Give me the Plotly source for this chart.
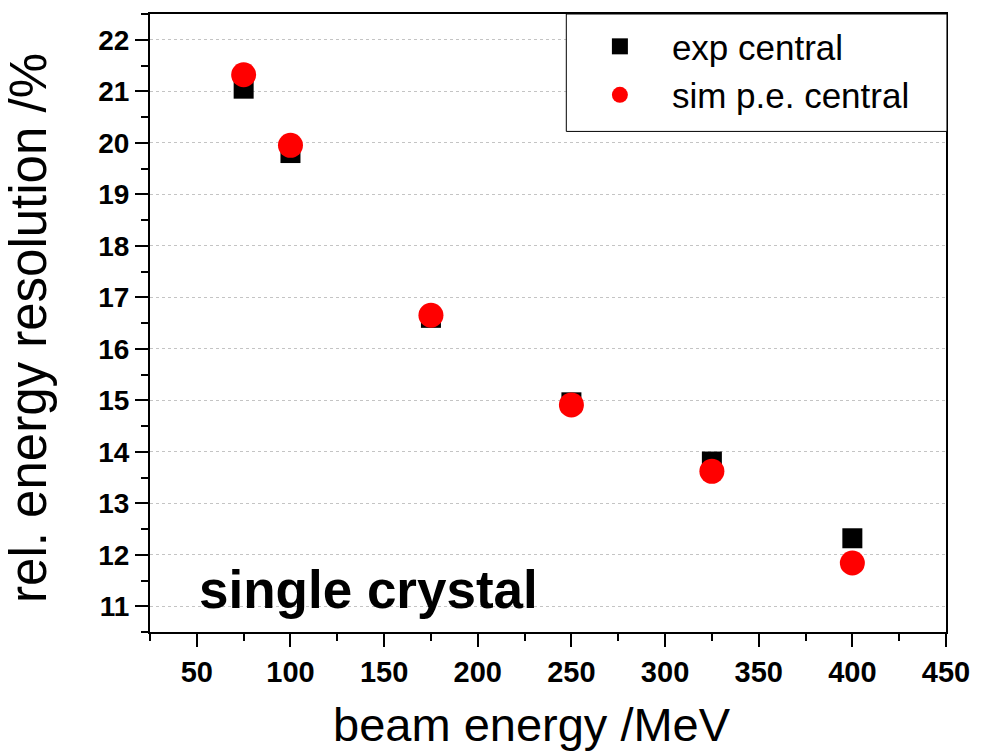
import plotly.graph_objects as go

beam_energy = [75, 100, 175, 250, 325, 400]
exp_central = [21.05, 19.80, 16.60, 14.96, 13.81, 12.32]
sim_pe_central = [21.32, 19.95, 16.65, 14.91, 13.62, 11.84]

FONT = "Liberation Sans, Arial, Helvetica, sans-serif"

fig = go.Figure()
fig.add_trace(go.Scatter(
    x=beam_energy, y=exp_central, mode="markers", name="exp central",
    marker=dict(symbol="square", size=20, color="black", line=dict(width=0)),
))
fig.add_trace(go.Scatter(
    x=beam_energy, y=sim_pe_central, mode="markers", name="sim p.e. central",
    marker=dict(symbol="circle", size=25, color="#ff0000", line=dict(width=0)),
))

fig.add_annotation(
    x=50, y=11.33, xref="x", yref="y", text="<b>single crystal</b>",
    showarrow=False, xanchor="left", yanchor="middle",
    font=dict(family=FONT, size=53, color="black"),
)
# axis titles (placed as annotations to match the reference's offsets)
fig.add_annotation(
    x=0.480, y=-0.15, xref="paper", yref="paper", text="beam energy /MeV",
    showarrow=False, xanchor="center", yanchor="middle",
    font=dict(family=FONT, size=47, color="black"),
)
fig.add_annotation(
    x=-0.152, y=0.492, xref="paper", yref="paper", text="rel. energy resolution /%",
    showarrow=False, xanchor="center", yanchor="middle", textangle=-90,
    font=dict(family=FONT, size=51, color="black"),
)

# legend frame (wider than plotly's auto-sized legend box, as in the reference)
fig.add_shape(
    type="rect", xref="paper", yref="paper",
    x0=0.523, x1=1.0012, y0=0.81, y1=1.0,
    line=dict(color="black", width=1), fillcolor="white", layer="above",
)

fig.update_layout(
    width=982, height=751,
    margin=dict(l=150, r=29, t=12, b=119),
    paper_bgcolor="white", plot_bgcolor="white",
    font=dict(family=FONT, color="black"),
    showlegend=True,
    legend=dict(
        x=0.525, y=0.995, xanchor="left", yanchor="top",
        bgcolor="rgba(0,0,0,0)", borderwidth=0,
        font=dict(family=FONT, size=35, color="black"),
        itemwidth=94,
    ),
    xaxis=dict(
        range=[25, 450], tickvals=[50, 100, 150, 200, 250, 300, 350, 400, 450],
        ticks="outside", ticklen=13, tickwidth=2, tickcolor="black",
        minor=dict(dtick=25, ticks="outside", ticklen=7, tickwidth=2, tickcolor="black"),
        showline=True, linewidth=2, linecolor="black", mirror=True,
        showgrid=False, zeroline=False,
        tickfont=dict(family=FONT, size=29, color="black", weight="bold"),
    ),
    yaxis=dict(
        range=[10.5, 22.5], tickvals=list(range(11, 23)),
        ticks="outside", ticklen=13, tickwidth=2, tickcolor="black",
        minor=dict(dtick=0.5, ticks="outside", ticklen=7, tickwidth=2, tickcolor="black", showgrid=False),
        showline=True, linewidth=2, linecolor="black", mirror=True,
        showgrid=True, gridcolor="#c4c4c4", griddash="dot", gridwidth=1,
        zeroline=False,
        tickfont=dict(family=FONT, size=28, color="black", weight="bold"),
    ),
)

fig.write_html("out.html")
